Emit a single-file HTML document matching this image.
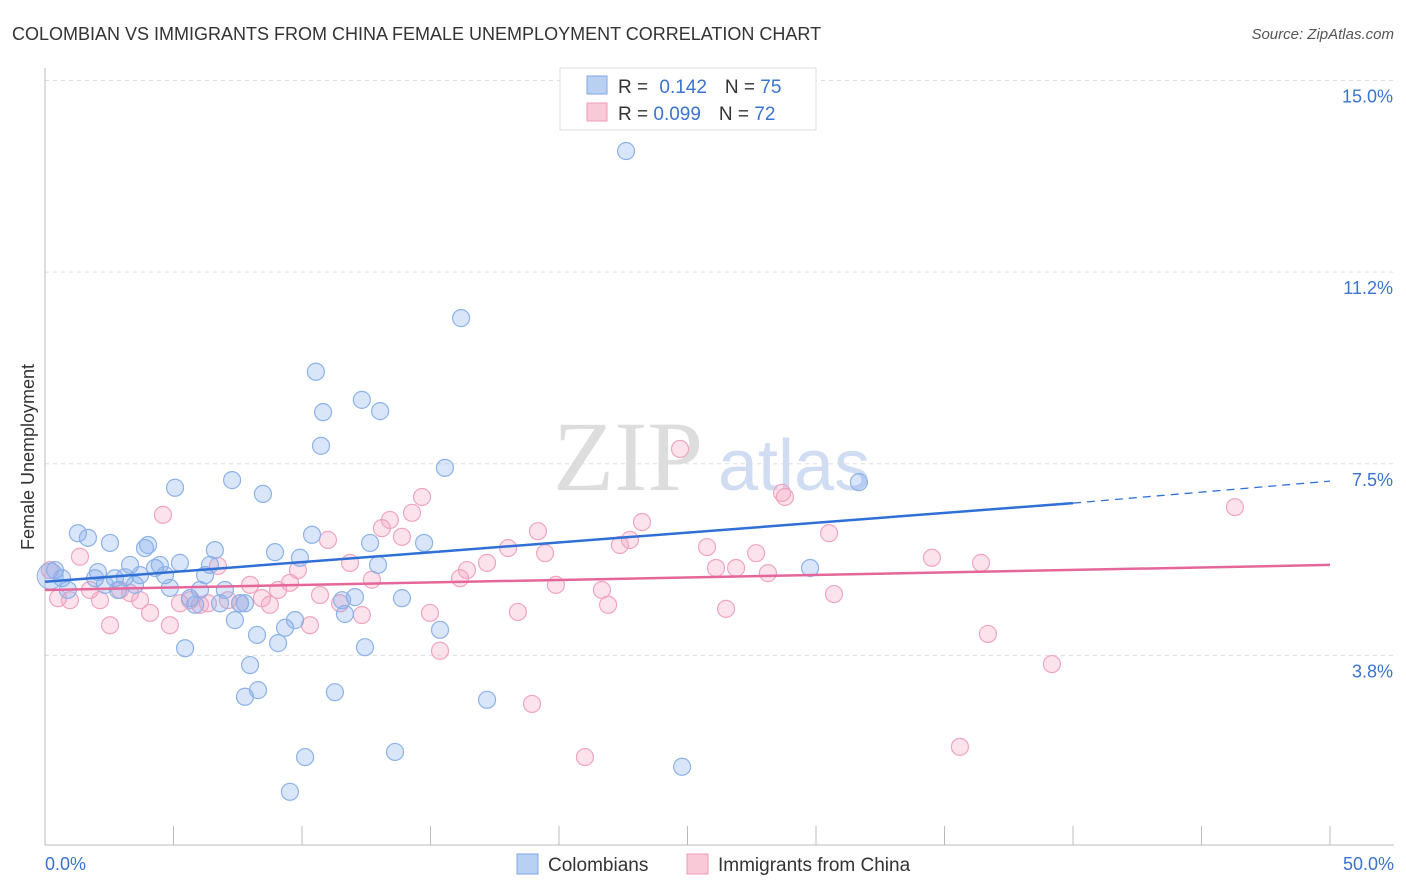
<!DOCTYPE html>
<html><head><meta charset="utf-8"><style>
body{margin:0;background:#fff;font-family:"Liberation Sans",sans-serif;}
svg{display:block}
</style></head><body>
<svg id="chart" width="1406" height="892">
<text x="12" y="40" font-size="18" fill="#333">COLOMBIAN VS IMMIGRANTS FROM CHINA FEMALE UNEMPLOYMENT CORRELATION CHART</text>
<text x="1394" y="39" font-size="15" fill="#555" font-style="italic" text-anchor="end">Source: ZipAtlas.com</text>
<g>
<text x="553" y="490" font-size="100" fill="#ddd" font-family="Liberation Serif,serif">ZIP</text>
<text x="718" y="490" font-size="72" fill="#cfdcf2">atlas</text>
</g>
<g id="grid"></g>
<g id="axes"></g>
<g id="pts"></g>
<g id="lines"></g>
<text transform="translate(34,457) rotate(-90)" font-size="18" fill="#333" text-anchor="middle">Female Unemployment</text>
<text x="45" y="870" font-size="18" fill="#3a73d0">0.0%</text>
<text x="1394" y="870" font-size="18" fill="#3a73d0" text-anchor="end">50.0%</text>
<g>
<rect x="560" y="68" width="256" height="62" fill="#fff" stroke="#ddd"/>
<rect x="587" y="76" width="20" height="18" fill="#b9d0f3" stroke="#7fa7e3"/>
<rect x="587" y="103" width="20" height="18" fill="#f9c9d8" stroke="#ee9ab6"/>
<text x="618" y="93" font-size="19" fill="#333">R = <tspan fill="#3a73d0" dx="6">0.142</tspan><tspan dx="18">N = </tspan><tspan fill="#3a73d0">75</tspan></text>
<text x="618" y="120" font-size="19" fill="#333">R = <tspan fill="#3a73d0">0.099</tspan><tspan dx="18">N = </tspan><tspan fill="#3a73d0">72</tspan></text>
</g>
<g>
<rect x="517" y="854" width="21" height="20" fill="#b9d0f3" stroke="#7fa7e3"/>
<text x="548" y="871" font-size="19" fill="#333">Colombians</text>
<rect x="687" y="854" width="21" height="20" fill="#f9c9d8" stroke="#ee9ab6"/>
<text x="718" y="871" font-size="19" fill="#333">Immigrants from China</text>
</g>
</svg>
<script>
const yTicks=[3.75,7.5,11.25,15];
const yTickLabels=["3.8%","7.5%","11.2%","15.0%"];
const xTicks=[0,5,10,15,20,25,30,35,40,45,50];
const blueX=[0.39,0.66,0.89,1.28,1.67,1.95,2.06,2.53,2.33,2.72,2.84,3.11,3.31,3.50,3.70,3.89,4.01,4.28,4.47,4.67,4.86,5.06,5.25,5.45,5.64,5.84,6.03,6.23,6.42,6.61,6.81,7.00,7.28,7.39,7.59,7.78,7.98,7.78,8.25,8.29,8.48,8.95,9.07,9.34,9.53,9.73,9.92,10.12,10.39,10.54,10.82,10.74,11.28,11.56,11.67,12.06,12.33,12.45,12.65,12.96,13.04,13.62,13.89,14.75,15.37,15.56,16.19,17.20,22.61,24.79,29.77,31.67];
const blueY=[5.42,5.26,5.03,6.14,6.05,5.26,5.38,5.95,5.13,5.26,5.03,5.28,5.52,5.13,5.32,5.85,5.91,5.46,5.52,5.32,5.07,7.03,5.56,3.89,4.87,4.74,5.03,5.32,5.52,5.81,4.77,5.03,7.18,4.44,4.77,4.77,3.56,2.94,4.15,3.07,6.91,5.77,3.99,4.29,1.08,4.44,5.66,1.76,6.11,9.30,8.51,7.85,3.03,4.83,4.56,4.89,8.75,3.91,5.95,5.52,8.53,1.86,4.87,5.95,4.25,7.42,10.35,2.88,13.62,1.57,5.46,7.14];
const pinkX=[0.19,0.51,0.97,1.36,1.75,2.14,2.53,2.92,3.31,3.70,4.09,4.59,4.86,5.25,5.64,6.03,6.34,6.73,7.12,7.59,7.98,8.44,8.75,9.07,9.53,9.84,10.31,10.70,11.01,11.48,11.87,12.33,12.72,13.11,13.42,13.89,14.28,14.67,14.98,15.37,16.15,16.42,17.20,18.02,18.40,18.95,19.18,19.46,19.88,21.01,21.67,21.91,22.37,22.76,23.23,24.71,25.76,26.11,26.50,26.89,27.67,28.13,28.68,28.79,30.51,30.70,34.51,35.60,36.42,36.69,39.18,46.30];
const pinkY=[5.42,4.87,4.83,5.68,5.03,4.83,4.34,5.03,4.97,4.83,4.58,6.50,4.34,4.77,4.83,4.74,4.77,5.50,4.83,4.77,5.13,4.87,4.74,5.03,5.17,5.42,4.34,4.93,6.01,4.77,5.56,4.54,5.23,6.24,6.40,6.07,6.54,6.85,4.58,3.84,5.26,5.42,5.56,5.85,4.60,2.80,6.18,5.75,5.13,1.76,5.03,4.74,5.91,6.01,6.36,7.79,5.87,5.46,4.66,5.46,5.75,5.36,6.93,6.85,6.14,4.95,5.66,1.96,5.56,4.17,3.58,6.65];
const blueLine=[5.19,6.73,7.16]; // at x=0,40,50
const pinkLine=[5.03,5.52]; // at x=0,50
const NS="http://www.w3.org/2000/svg";
const X=v=>45+v/50*1285;
const Y=v=>847-v*51.1;
function mk(tag,attrs,parent){const e=document.createElementNS(NS,tag);for(const k in attrs)e.setAttribute(k,attrs[k]);document.getElementById(parent).appendChild(e);return e;}
yTicks.forEach((t,i)=>{
 const g=mk('line',{x1:45,x2:1394,y1:Y(t),y2:Y(t),stroke:'#ddd','stroke-dasharray':'4,4'},'grid');
 
 
 const l=mk('text',{x:1393,y:Y(t)+22,'font-size':18,fill:'#3a73d0','text-anchor':'end'},'grid');
 l.textContent=yTickLabels[i];
 
 
});
const ax=mk('line',{x1:45,x2:45,y1:68,y2:845,stroke:'#bbb'},'axes');


const bx=mk('line',{x1:45,x2:1394,y1:845,y2:845,stroke:'#bbb'},'axes');


xTicks.forEach(t=>{
 const tk=mk('line',{x1:X(t),x2:X(t),y1:826,y2:845,stroke:'#bbb'},'axes');
 
 
});
function pts(xs,ys,fill,stroke,name){
 xs.forEach((x,i)=>{
  const c=mk('circle',{cx:X(x),cy:Y(ys[i]),r:8.5,fill:fill,stroke:stroke,'stroke-width':1.2},'pts');
  
  
 });
}
pts(pinkX,pinkY,'rgba(244,160,190,0.3)','#efa5c0','point-china');
pts(blueX,blueY,'rgba(130,170,235,0.3)','#8db2e8','point-colombians');
const big1=mk('circle',{cx:X(0.2),cy:Y(5.3),r:13,fill:'rgba(130,170,235,0.35)',stroke:'#8db2e8'},'pts');


const bl=mk('line',{x1:X(0),y1:Y(blueLine[0]),x2:X(40),y2:Y(blueLine[1]),stroke:'#2f6fd6','stroke-width':2.5},'lines');


const bd=mk('line',{x1:X(40),y1:Y(blueLine[1]),x2:X(50),y2:Y(blueLine[2]),stroke:'#2f6fd6','stroke-width':1.3,'stroke-dasharray':'8,6'},'lines');


const pl=mk('line',{x1:X(0),y1:Y(pinkLine[0]),x2:X(50),y2:Y(pinkLine[1]),stroke:'#e5679a','stroke-width':2.5},'lines');


</script>
</body></html>
